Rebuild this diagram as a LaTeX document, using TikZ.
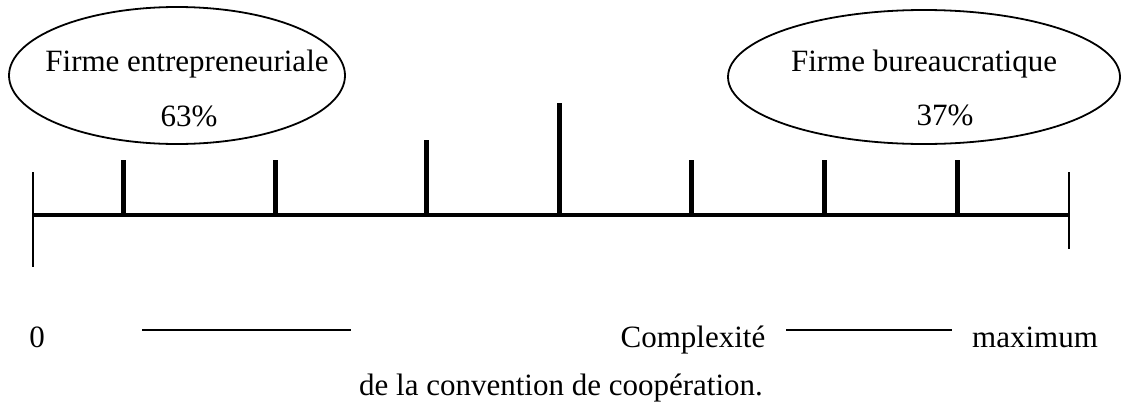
\documentclass[tikz,border=0pt]{standalone}
\usepackage{fontspec}
\setmainfont{Liberation Serif}
\usetikzlibrary{shapes.geometric}

\begin{document}
\begin{tikzpicture}[x=1pt, y=-1pt, thick,
    bubble/.style = {draw, ellipse, line width=1.8pt, inner sep=0pt},
    label/.style = {inner sep=0pt, anchor=base, font=\fontsize{31}{37}\selectfont},
    tick/.style = {line width=5pt},
    rule/.style = {line width=1.5pt}]
    \useasboundingbox (0,0) rectangle (1123,410);

    % the two firms
    \node[bubble, minimum width=336pt, minimum height=137pt] (entr) at (177,75.5) {};
    \node[bubble, minimum width=392pt, minimum height=134pt] (bur) at (924,77) {};
    \node[label] (entrname) at (187,71) {Firme entrepreneuriale};
    \node[label] (entrpct) at (189,126) {63\%};
    \node[label] (burname) at (924,71) {Firme bureaucratique};
    \node[label] (burpct) at (945,125) {37\%};

    % the scale
    \draw[line width=4pt] (33,215) -- (1069,215);
    \draw[line width=2.5pt] (33,172) -- (33,267);
    \draw[line width=2.5pt] (1069,172) -- (1069,249);
    \foreach \x/\top in {123/160, 275/160, 426/140, 559/103, 691/160, 824/160, 957/160}
        \draw[tick] (\x,215) -- (\x,\top);

    % caption under the scale
    \node[label] (zero) at (37,347) {0};
    \node[label] (compl) at (693,347) {Complexité};
    \node[label] (maxi) at (1035,347) {maximum};
    \node[label] (conv) at (561,395) {de la convention de coopération.};
    \draw[rule] (142,330) -- (351,330);
    \draw[rule] (786,330) -- (952,330);
\end{tikzpicture}
\end{document}
